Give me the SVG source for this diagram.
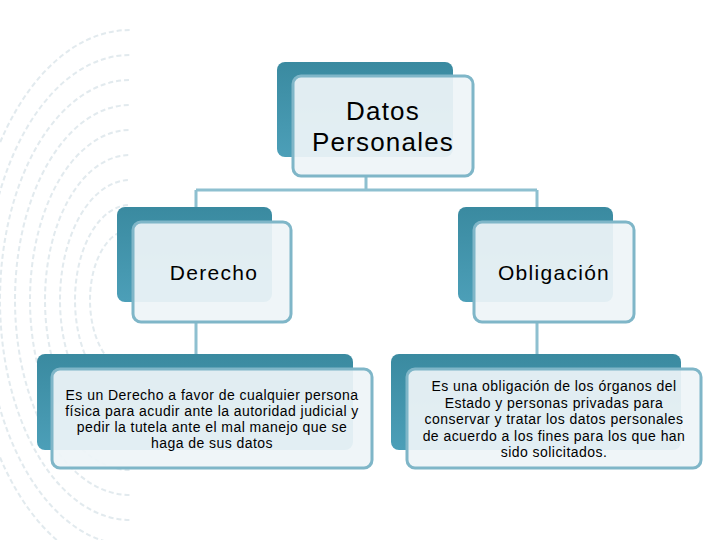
<svg xmlns="http://www.w3.org/2000/svg" width="720" height="540" viewBox="0 0 720 540">
<style>
.bk{fill:url(#g)}
.fr{fill:#eef4f7;fill-opacity:0.93;stroke:#7fb6c8;stroke-width:3}
.t{font-family:"Liberation Sans",Arial,sans-serif;fill:#000;text-anchor:middle}
.h{font-size:26px;letter-spacing:1.2px}
.m{font-size:21px;letter-spacing:1.3px}
.s{font-size:14px;letter-spacing:0.45px}
.c{stroke:#8ec0d0;stroke-width:3;fill:none}
.fp{fill:none;stroke:#cfdde4;stroke-width:2;stroke-dasharray:5 3}
</style>
<defs>
<linearGradient id="g" x1="0" y1="0" x2="0" y2="1"><stop offset="0" stop-color="#3a8aa0"/><stop offset="1" stop-color="#4c9fb8"/></linearGradient>
<clipPath id="cl"><rect x="0" y="0" width="130" height="540"/></clipPath>
</defs>
<rect width="720" height="540" fill="#fff"/>
<g clip-path="url(#cl)" opacity="0.6">
<ellipse class="fp" cx="130" cy="300" rx="40" ry="70"/>
<ellipse class="fp" cx="130" cy="300" rx="55" ry="95"/>
<ellipse class="fp" cx="130" cy="300" rx="70" ry="120"/>
<ellipse class="fp" cx="130" cy="300" rx="85" ry="145"/>
<ellipse class="fp" cx="130" cy="300" rx="100" ry="170"/>
<ellipse class="fp" cx="130" cy="300" rx="115" ry="195"/>
<ellipse class="fp" cx="130" cy="300" rx="130" ry="220"/>
<ellipse class="fp" cx="130" cy="300" rx="145" ry="245"/>
<ellipse class="fp" cx="130" cy="300" rx="160" ry="270"/>
</g>
<g id="connectors">
<path class="c" d="M366 176V190M196 190H537M196 190V208M537 190V208M196 322V355M537 322V355"/>
</g>
<g id="datos">
<rect class="bk" x="277" y="62" width="176" height="95" rx="8"/>
<rect class="fr" x="293" y="76" width="180" height="100" rx="8"/>
<text class="t h" x="383" y="120">Datos</text>
<text class="t h" x="383" y="151">Personales</text>
</g>
<g id="derecho">
<rect class="bk" x="117" y="207" width="155" height="95" rx="8"/>
<rect class="fr" x="133" y="222" width="158" height="100" rx="8"/>
<text class="t m" x="214" y="280">Derecho</text>
</g>
<g id="obligacion">
<rect class="bk" x="458" y="207" width="155" height="95" rx="8"/>
<rect class="fr" x="474" y="222" width="160" height="100" rx="8"/>
<text class="t m" x="554" y="280">Obligación</text>
</g>
<g id="derecho-desc">
<rect class="bk" x="37" y="354" width="316" height="96" rx="8"/>
<rect class="fr" x="52" y="369" width="320" height="99" rx="8"/>
<text class="t s" x="212" y="400">Es un Derecho a favor de cualquier persona</text>
<text class="t s" x="212" y="416">física para acudir ante la autoridad judicial y</text>
<text class="t s" x="212" y="432">pedir la tutela ante el mal manejo que se</text>
<text class="t s" x="212" y="448">haga de sus datos</text>
</g>
<g id="obligacion-desc">
<rect class="bk" x="391" y="354" width="290" height="96" rx="8"/>
<rect class="fr" x="407" y="369" width="294" height="99" rx="8"/>
<text class="t s" x="554" y="391">Es una obligación de los órganos del</text>
<text class="t s" x="554" y="408">Estado y personas privadas para</text>
<text class="t s" x="554" y="424">conservar y tratar los datos personales</text>
<text class="t s" x="554" y="441">de acuerdo a los fines para los que han</text>
<text class="t s" x="554" y="457">sido solicitados.</text>
</g>
</svg>
